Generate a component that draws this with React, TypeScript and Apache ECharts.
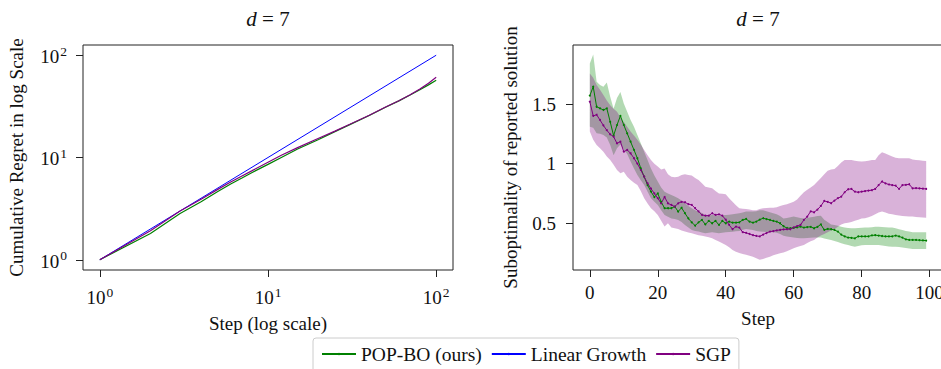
import React, { useEffect, useRef } from "react";
import * as echarts from "echarts";

const FONT = "'Liberation Serif', 'DejaVu Serif', serif";
const TEXT = "#111111";
const GREEN = "#008000";
const BLUE = "#0000ff";
const PURPLE = "#800080";

// ---------- Left panel: cumulative regret (log-log) ----------
const CUM_STEPS = [1, 2, 3, 4, 5, 6, 7, 8, 10, 12, 15, 20, 25, 30, 40, 50, 60, 70, 80, 90, 100];
const POPBO_CUM = [1, 1.81, 2.84, 3.7, 4.62, 5.5, 6.3, 7.1, 8.56, 10.0, 12.1, 15.0, 17.9, 20.6, 25.7, 31.0, 35.8, 40.8, 46.0, 51.3, 57.0];
const SGP_CUM = [1, 1.92, 3.0, 3.9, 4.85, 5.75, 6.6, 7.4, 9.0, 10.5, 12.5, 15.4, 18.1, 20.8, 25.9, 31.2, 35.9, 41.0, 46.8, 53.2, 61.0];
const LINEAR_STEPS = [1, 100];
const LINEAR_CUM = [1, 100];
const LOG_TICKS = [1, 10, 100];

// ---------- Right panel: suboptimality of reported solution ----------
const STEPS = Array.from({ length: 100 }, (_, i) => i);
const POPBO_MEAN = [
  1.57, 1.645, 1.477, 1.464, 1.45, 1.464, 1.35, 1.235, 1.324, 1.4,
  1.324, 1.254, 1.184, 1.115, 1.045, 0.96, 0.89, 0.82, 0.765, 0.72,
  0.75, 0.68, 0.626, 0.626, 0.626, 0.64, 0.598, 0.63, 0.584, 0.54,
  0.508, 0.48, 0.508, 0.528, 0.49, 0.52, 0.5, 0.52, 0.486, 0.52,
  0.5, 0.514, 0.505, 0.505, 0.508, 0.528, 0.536, 0.514, 0.505, 0.514,
  0.53, 0.542, 0.535, 0.528, 0.52, 0.514, 0.5, 0.475, 0.46, 0.458,
  0.462, 0.466, 0.472, 0.464, 0.468, 0.47, 0.458, 0.47, 0.49, 0.444,
  0.452, 0.45, 0.444, 0.43, 0.405, 0.39, 0.38, 0.378, 0.374, 0.39,
  0.39, 0.39, 0.39, 0.398, 0.4, 0.397, 0.393, 0.39, 0.39, 0.39,
  0.397, 0.39, 0.38, 0.365, 0.36, 0.36, 0.36, 0.358, 0.356, 0.355,
];
const POPBO_UPPER = [
  1.84, 1.916, 1.687, 1.66, 1.645, 1.68, 1.56, 1.46, 1.55, 1.6,
  1.505, 1.435, 1.366, 1.31, 1.24, 1.17, 1.1, 1.03, 0.96, 0.9,
  0.85, 0.8, 0.765, 0.75, 0.737, 0.725, 0.71, 0.69, 0.668, 0.645,
  0.626, 0.61, 0.6, 0.585, 0.57, 0.57, 0.57, 0.567, 0.564, 0.567,
  0.57, 0.572, 0.575, 0.58, 0.584, 0.59, 0.598, 0.598, 0.598, 0.6,
  0.61, 0.61, 0.6, 0.592, 0.584, 0.575, 0.56, 0.54, 0.545, 0.55,
  0.556, 0.55, 0.545, 0.54, 0.545, 0.55, 0.555, 0.56, 0.564, 0.53,
  0.51, 0.49, 0.485, 0.48, 0.47, 0.465, 0.46, 0.458, 0.458, 0.46,
  0.462, 0.464, 0.464, 0.466, 0.47, 0.47, 0.468, 0.466, 0.464, 0.464,
  0.458, 0.45, 0.444, 0.436, 0.43, 0.425, 0.425, 0.425, 0.425, 0.425,
];
const POPBO_LOWER = [
  1.31, 1.3, 1.254, 1.25, 1.24, 1.22, 1.156, 1.07, 1.13, 1.16,
  1.12, 1.08, 1.017, 0.96, 0.905, 0.86, 0.82, 0.765, 0.71, 0.68,
  0.654, 0.61, 0.57, 0.555, 0.54, 0.535, 0.528, 0.51, 0.486, 0.465,
  0.444, 0.436, 0.43, 0.422, 0.416, 0.42, 0.424, 0.42, 0.416, 0.42,
  0.424, 0.426, 0.428, 0.432, 0.436, 0.445, 0.452, 0.448, 0.444, 0.435,
  0.43, 0.428, 0.426, 0.425, 0.425, 0.42, 0.41, 0.395, 0.39, 0.385,
  0.38, 0.376, 0.374, 0.374, 0.376, 0.378, 0.38, 0.38, 0.38, 0.372,
  0.365, 0.36, 0.352, 0.342, 0.332, 0.325, 0.318, 0.31, 0.304, 0.31,
  0.315, 0.318, 0.318, 0.318, 0.318, 0.318, 0.314, 0.31, 0.306, 0.304,
  0.302, 0.3, 0.296, 0.292, 0.288, 0.285, 0.285, 0.285, 0.285, 0.285,
];
const SGP_MEAN = [
  1.52, 1.4, 1.41, 1.366, 1.32, 1.28, 1.246, 1.226, 1.17, 1.184,
  1.1, 1.115, 1.087, 1.045, 1.0, 0.947, 0.89, 0.835, 0.79, 0.75,
  0.71, 0.667, 0.72, 0.667, 0.654, 0.64, 0.667, 0.68, 0.676, 0.66,
  0.654, 0.626, 0.6, 0.57, 0.564, 0.564, 0.584, 0.57, 0.575, 0.564,
  0.53, 0.486, 0.45, 0.472, 0.464, 0.425, 0.42, 0.41, 0.4, 0.394,
  0.39, 0.405, 0.418, 0.43, 0.434, 0.44, 0.444, 0.448, 0.45, 0.45,
  0.465, 0.476, 0.486, 0.528, 0.556, 0.6, 0.592, 0.615, 0.645, 0.687,
  0.68, 0.668, 0.69, 0.71, 0.723, 0.76, 0.785, 0.788, 0.765, 0.76,
  0.765, 0.77, 0.774, 0.777, 0.788, 0.82, 0.85, 0.835, 0.825, 0.82,
  0.816, 0.788, 0.82, 0.822, 0.827, 0.793, 0.795, 0.793, 0.79, 0.788,
];
const SGP_UPPER = [
  1.757, 1.72, 1.66, 1.62, 1.575, 1.53, 1.49, 1.46, 1.435, 1.39,
  1.35, 1.31, 1.27, 1.235, 1.2, 1.16, 1.115, 1.07, 1.03, 1.0,
  0.975, 0.95, 0.96, 0.91, 0.89, 0.885, 0.89, 0.905, 0.91, 0.905,
  0.9, 0.88, 0.863, 0.835, 0.807, 0.8, 0.793, 0.77, 0.75, 0.748,
  0.743, 0.71, 0.68, 0.65, 0.626, 0.622, 0.62, 0.615, 0.61, 0.61,
  0.62, 0.626, 0.628, 0.63, 0.63, 0.635, 0.645, 0.654, 0.66, 0.67,
  0.68, 0.7, 0.73, 0.76, 0.78, 0.8, 0.82, 0.85, 0.88, 0.91,
  0.94, 0.95, 0.955, 0.98, 1.01, 1.03, 1.03, 1.03, 1.025, 1.02,
  1.017, 1.02, 1.025, 1.03, 1.03, 1.07, 1.095, 1.085, 1.073, 1.06,
  1.05, 1.045, 1.045, 1.045, 1.045, 1.035, 1.03, 1.028, 1.025, 1.022,
];
const SGP_LOWER = [
  1.27, 1.2, 1.156, 1.13, 1.1, 1.06, 1.03, 0.99, 0.947, 0.92,
  0.933, 0.89, 0.863, 0.84, 0.82, 0.77, 0.71, 0.665, 0.626, 0.6,
  0.57, 0.52, 0.472, 0.5, 0.464, 0.458, 0.452, 0.44, 0.43, 0.422,
  0.416, 0.408, 0.4, 0.395, 0.39, 0.382, 0.374, 0.36, 0.346, 0.332,
  0.318, 0.298, 0.276, 0.262, 0.25, 0.242, 0.235, 0.228, 0.22, 0.207,
  0.195, 0.2, 0.21, 0.22, 0.232, 0.24, 0.248, 0.255, 0.265, 0.278,
  0.29, 0.3, 0.31, 0.318, 0.335, 0.35, 0.36, 0.38, 0.397, 0.41,
  0.425, 0.44, 0.45, 0.47, 0.49, 0.5, 0.505, 0.51, 0.52, 0.53,
  0.54, 0.542, 0.55, 0.56, 0.575, 0.59, 0.598, 0.59, 0.58, 0.575,
  0.57, 0.565, 0.56, 0.558, 0.556, 0.556, 0.552, 0.55, 0.548, 0.547,
];
const STEP_TICKS = [0, 20, 40, 60, 80, 100];
const SUBOPT_TICKS = [0.5, 1, 1.5];

const LEGEND_NAMES = ["POP-BO (ours)", "Linear Growth", "SGP"];

function zip(xs: number[], ys: number[]) {
  return xs.map((x, i) => [x, ys[i]]);
}

function band(name: string, lower: number[], upper: number[], fill: string) {
  return {
    type: "custom",
    name,
    xAxisIndex: 1,
    yAxisIndex: 1,
    coordinateSystem: "cartesian2d",
    silent: true,
    z: 1,
    data: [[STEPS[0], lower[0]]],
    renderItem: (_params: any, api: any) => {
      const pts: number[][] = [];
      for (let i = 0; i < STEPS.length; i++) pts.push(api.coord([STEPS[i], upper[i]]));
      for (let i = STEPS.length - 1; i >= 0; i--) pts.push(api.coord([STEPS[i], lower[i]]));
      return { type: "polygon", shape: { points: pts }, style: { fill, stroke: "none" } };
    },
  };
}

const FS = 19;
const labelText = { fontFamily: FONT, fontSize: FS, color: TEXT };
const tick = { show: true, length: 7, lineStyle: { color: "#222", width: 1 } };
const noLine = { show: false, onZero: false };

export default function App() {
  const ref = useRef<HTMLDivElement>(null);

  useEffect(() => {
    if (!ref.current) return;
    const chart = echarts.init(ref.current, undefined, { renderer: "svg" });

    const logLabel = {
      ...labelText,
      customValues: LOG_TICKS,
      formatter: (v: number) => `{b|10}{s|${Math.round(Math.log10(v))}}`,
      rich: {
        b: { fontFamily: FONT, fontSize: FS, lineHeight: 22, verticalAlign: "bottom", color: TEXT },
        s: { fontFamily: FONT, fontSize: 13.5, lineHeight: 14, color: TEXT, verticalAlign: "top", padding: [0, 0, 0, 1] },
      },
    };

    const titleStyle = (x: number) => ({
      type: "text", x, y: 19,
      style: {
        text: "{i|d} = 7", fontFamily: FONT, fontSize: 21, fill: TEXT, align: "center", verticalAlign: "middle",
        rich: { i: { fontFamily: FONT, fontSize: 21, fontStyle: "italic", fill: TEXT } },
      },
    });

    const option: any = {
      animation: false,
      backgroundColor: "#ffffff",
      textStyle: { fontFamily: FONT },
      grid: [
        { left: 83, top: 45, width: 370, height: 225, show: true, borderColor: "#222", borderWidth: 1, backgroundColor: "transparent", containLabel: false, outerBoundsMode: "none" },
        { left: 573, top: 45, width: 370, height: 225, show: true, borderColor: "#222", borderWidth: 1, backgroundColor: "transparent", containLabel: false, outerBoundsMode: "none" },
      ],
      xAxis: [
        {
          type: "log", logBase: 10, gridIndex: 0, min: 0.7943, max: 125.89,
          axisLine: noLine, splitLine: { show: false },
          axisTick: { ...tick, customValues: LOG_TICKS },
          axisLabel: { ...logLabel, margin: 15 },
          name: "Step (log scale)", nameLocation: "middle", nameGap: 44,
          nameTextStyle: { ...labelText },
        },
        {
          type: "value", gridIndex: 1, min: -4.95, max: 103.95,
          axisLine: noLine, splitLine: { show: false },
          axisTick: { ...tick, customValues: STEP_TICKS },
          axisLabel: { ...labelText, margin: 13, customValues: STEP_TICKS },
          name: "Step", nameLocation: "middle", nameGap: 39,
          nameTextStyle: { ...labelText },
        },
      ],
      yAxis: [
        {
          type: "log", logBase: 10, gridIndex: 0, min: 0.7943, max: 125.89,
          axisLine: noLine, splitLine: { show: false },
          axisTick: { ...tick, customValues: LOG_TICKS },
          axisLabel: { ...logLabel, margin: 16 },
          name: "Cumulative Regret in log Scale", nameLocation: "middle", nameGap: 57,
          nameTextStyle: { ...labelText },
        },
        {
          type: "value", gridIndex: 1, min: 0.108, max: 1.995,
          axisLine: noLine, splitLine: { show: false },
          axisTick: { ...tick, customValues: SUBOPT_TICKS },
          axisLabel: { ...labelText, margin: 17, customValues: SUBOPT_TICKS, formatter: (v: number) => String(v) },
          name: "Suboptimality of reported solution", nameLocation: "middle", nameGap: 53,
          nameTextStyle: { ...labelText },
        },
      ],
      legend: {
        data: LEGEND_NAMES,
        left: 313, top: 338,
        orient: "horizontal",
        padding: [6, 8, 12, 8],
        itemGap: 9, itemWidth: 34, itemHeight: 3,
        borderColor: "#cccccc", borderWidth: 1, borderRadius: 3,
        backgroundColor: "#ffffff",
        textStyle: { ...labelText, fontSize: 19.5 },
        selectedMode: false,
      },
      graphic: [titleStyle(268), titleStyle(758)],
      series: [
        band("POP-BO band", POPBO_LOWER, POPBO_UPPER, "rgba(0,128,0,0.3)"),
        band("SGP band", SGP_LOWER, SGP_UPPER, "rgba(128,0,128,0.3)"),
        {
          type: "line", name: "POP-BO (ours)", xAxisIndex: 1, yAxisIndex: 1, z: 2,
          data: zip(STEPS, POPBO_MEAN), symbol: "circle", symbolSize: 2, showSymbol: true,
          lineStyle: { color: GREEN, width: 1 }, itemStyle: { color: GREEN }, silent: true,
        },
        {
          type: "line", name: "SGP", xAxisIndex: 1, yAxisIndex: 1, z: 2,
          data: zip(STEPS, SGP_MEAN), symbol: "circle", symbolSize: 2, showSymbol: true,
          lineStyle: { color: PURPLE, width: 1 }, itemStyle: { color: PURPLE }, silent: true,
        },
        {
          type: "line", name: "POP-BO (ours)", xAxisIndex: 0, yAxisIndex: 0, z: 2,
          data: zip(CUM_STEPS, POPBO_CUM), symbol: "none",
          lineStyle: { color: GREEN, width: 1.2 }, itemStyle: { color: GREEN }, silent: true,
        },
        {
          type: "line", name: "Linear Growth", xAxisIndex: 0, yAxisIndex: 0, z: 2,
          data: zip(LINEAR_STEPS, LINEAR_CUM), symbol: "circle", symbolSize: 0.1, showSymbol: false,
          lineStyle: { color: BLUE, width: 1 }, itemStyle: { color: BLUE }, silent: true,
        },
        {
          type: "line", name: "SGP", xAxisIndex: 0, yAxisIndex: 0, z: 2,
          data: zip(CUM_STEPS, SGP_CUM), symbol: "none",
          lineStyle: { color: PURPLE, width: 1.2 }, itemStyle: { color: PURPLE }, silent: true,
        },
      ],
    };

    chart.setOption(option);
    return () => chart.dispose();
  }, []);

  return (
    <div
      ref={ref}
      style={{ position: "absolute", left: 0, top: 0, width: 941, height: 369, background: "#fff" }}
    />
  );
}
